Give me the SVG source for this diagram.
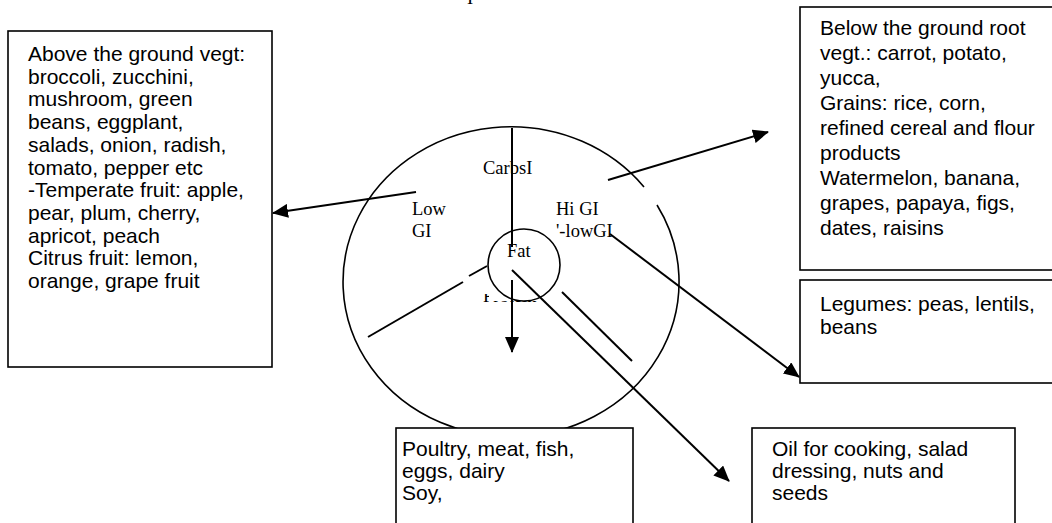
<svg xmlns="http://www.w3.org/2000/svg" width="1052" height="523" viewBox="0 0 1052 523">
<style>
.box{fill:#fff;stroke:#000;stroke-width:1.6}
.t{font-family:"Liberation Sans",Arial,sans-serif;font-size:21px;fill:#000}
.s{font-family:"Liberation Serif","Times New Roman",serif;font-size:18.5px;fill:#000}
.ln{stroke:#000;stroke-width:2;fill:none}
.arr{stroke:#000;stroke-width:2;fill:none;marker-end:url(#ah)}
</style>
<defs>
<marker id="ah" markerWidth="16" markerHeight="14" refX="15" refY="7" orient="auto" markerUnits="userSpaceOnUse"><path d="M0,0 L16,7 L0,14 Z" fill="#000"/></marker>
<clipPath id="protClip"><rect x="481" y="294" width="8" height="11"/><rect x="489" y="301" width="50" height="4"/></clipPath>
</defs>
<rect width="1052" height="523" fill="#fff"/>
<g id="title"><text class="s" x="467" y="4">I</text></g>
<g id="plate">
<path class="ln" style="stroke-width:1.6" d="M657,205 A168,155 0 1 1 644,187"/>
<circle class="ln" style="stroke-width:1.6" cx="524" cy="265" r="36"/>
<text class="s" x="483" y="174">CarbsI</text>
<text class="s" x="412" y="215">Low</text>
<text class="s" x="412" y="237">GI</text>
<text class="s" x="556" y="215">Hi GI</text>
<text class="s" x="556" y="237">'-lowGI</text>
<text class="s" x="507" y="257">Fat</text>
<text class="s" x="483" y="302" clip-path="url(#protClip)">Protein</text>
</g>
<g id="connectors">
<line class="ln" x1="512" y1="128" x2="512" y2="247"/>
<line class="arr" x1="512" y1="280" x2="512" y2="352"/>
<line class="arr" x1="416" y1="192" x2="273" y2="213"/>
<line class="arr" x1="608" y1="180" x2="768" y2="132"/>
<line class="arr" x1="610" y1="234" x2="799" y2="377"/>
<line class="arr" x1="512" y1="270" x2="729" y2="481"/>
<line class="ln" x1="368" y1="337" x2="463" y2="282"/>
<line class="ln" x1="469" y1="276" x2="487" y2="266"/>
<line class="ln" x1="562" y1="292" x2="632" y2="361"/>
</g>
<g id="above">
<rect class="box" x="8" y="31" width="264" height="336"/>
<text class="t"><tspan x="28" y="61">Above the ground vegt:</tspan><tspan x="28" y="83.7">broccoli, zucchini,</tspan><tspan x="28" y="106.4">mushroom, green</tspan><tspan x="28" y="129.1">beans, eggplant,</tspan><tspan x="28" y="151.8">salads, onion, radish,</tspan><tspan x="28" y="174.5">tomato, pepper etc</tspan><tspan x="28" y="197.2">-Temperate fruit: apple,</tspan><tspan x="28" y="219.9">pear, plum, cherry,</tspan><tspan x="28" y="242.6">apricot, peach</tspan><tspan x="28" y="265.3">Citrus fruit: lemon,</tspan><tspan x="28" y="288">orange, grape fruit</tspan></text>
</g>
<g id="below">
<rect class="box" x="800" y="7" width="270" height="263"/>
<text class="t"><tspan x="820" y="35">Below the ground root</tspan><tspan x="820" y="60">vegt.: carrot, potato,</tspan><tspan x="820" y="85">yucca,</tspan><tspan x="820" y="110">Grains: rice, corn,</tspan><tspan x="820" y="135">refined cereal and flour</tspan><tspan x="820" y="160">products</tspan><tspan x="820" y="185">Watermelon, banana,</tspan><tspan x="820" y="210">grapes, papaya, figs,</tspan><tspan x="820" y="235">dates, raisins</tspan></text>
</g>
<g id="legumes">
<rect class="box" x="800" y="280" width="270" height="103"/>
<text class="t"><tspan x="820" y="311">Legumes: peas, lentils,</tspan><tspan x="820" y="334">beans</tspan></text>
</g>
<g id="protein">
<rect class="box" x="396" y="428" width="237" height="110"/>
<text class="t"><tspan x="402" y="456">Poultry, meat, fish,</tspan><tspan x="402" y="478">eggs, dairy</tspan><tspan x="402" y="500">Soy,</tspan></text>
</g>
<g id="fat">
<rect class="box" x="752" y="428" width="263" height="110"/>
<text class="t"><tspan x="772" y="456">Oil for cooking, salad</tspan><tspan x="772" y="478">dressing, nuts and</tspan><tspan x="772" y="500">seeds</tspan></text>
</g>
</svg>
